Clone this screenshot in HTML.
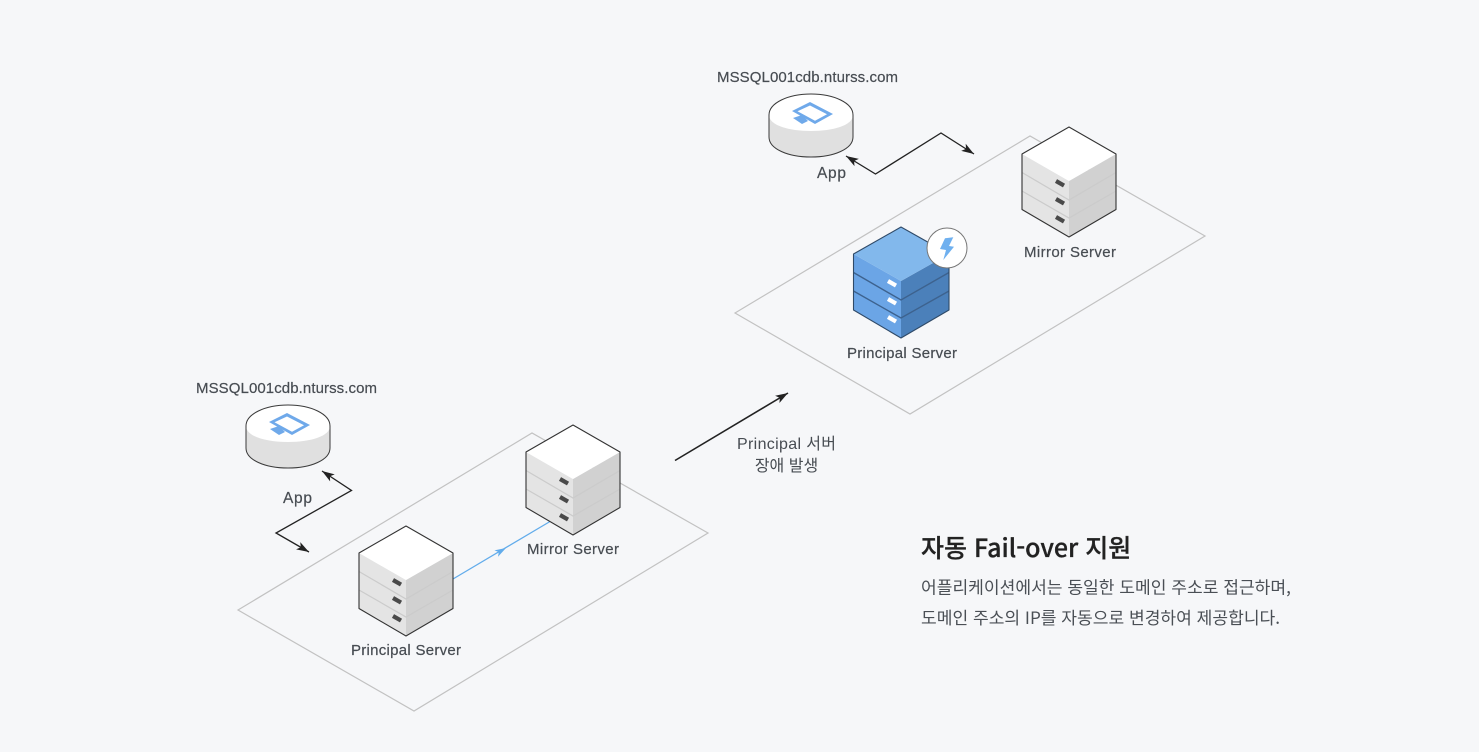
<!DOCTYPE html>
<html lang="ko">
<head>
<meta charset="utf-8">
<style>
html,body{margin:0;padding:0;background:#f6f7f9;width:1479px;height:752px;overflow:hidden}
svg{display:block}
text{font-family:"Liberation Sans","Noto Sans CJK KR",sans-serif;fill:#474c52}
.l{stroke:#474c52;stroke-width:.2}
.k{font-family:"Noto Sans CJK KR","Liberation Sans",sans-serif}
</style>
</head>
<body>
<svg width="1479" height="752" viewBox="0 0 1479 752" xmlns="http://www.w3.org/2000/svg">
<defs>
<marker id="a" viewBox="0 0 14 10" refX="13" refY="5" markerWidth="14" markerHeight="10" orient="auto-start-reverse" markerUnits="userSpaceOnUse">
  <path d="M13,5 L0.5,0.8 L3.5,5 L0.5,9.2 Z" fill="#222"/>
</marker>
<g id="srv">
  <polygon points="-47,27 0,54 0,110 -47,82.5" fill="#e4e4e4"/>
  <polygon points="47,27 0,54 0,110 47,82.5" fill="#d1d1d1"/>
  <polygon points="0,0 47,27 0,54 -47,27" fill="#fff"/>
  <path d="M-47,45.5 L0,73 L47,45.5 M-47,64 L0,91 L47,64" fill="none" stroke="#cbcbcb" stroke-width="1.2"/>
  <path d="M-13,54 L-5,58.6 M-13,72 L-5,76.6 M-13,90 L-5,94.6" stroke="#4a4a4a" stroke-width="4.2" fill="none"/>
  <polygon points="0,0 47,27 47,82.5 0,110 -47,82.5 -47,27" fill="none" stroke="#333" stroke-width="1.1" stroke-linejoin="round"/>
</g>
<g id="db">
  <path d="M-42,21 V43 C-42,55 -23,63 0,63 C23,63 42,55 42,43 V21 Z" fill="#e0e0e0"/>
  <path d="M-42,21 C-42,9 -23,0 0,0 C23,0 42,9 42,21 C42,31 23,37 0,37 C-23,37 -42,31 -42,21 Z" fill="#fff"/>
  <path d="M-42,21 C-42,9 -23,0 0,0 C23,0 42,9 42,21 V43 C42,55 23,63 0,63 C-23,63 -42,55 -42,43 Z" fill="none" stroke="#3a3a3a" stroke-width="1"/>
  <path fill-rule="evenodd" d="M-1,8 L22,20 L4,30 L-19,17 Z M-1,11.5 L16,20.3 L4,26.7 L-13.5,17.2 Z" fill="#6fa9ea"/>
  <polygon points="-18,24 -9,21 -3,27 -9,30" fill="#6fa9ea"/>
</g>
</defs>

<rect width="1479" height="752" fill="#f6f7f9"/>

<!-- planes -->
<polygon points="238,610 532,433 708,533 414,711" fill="none" stroke="#c2c2c2" stroke-width="1.2"/>
<polygon points="735,313 1030,136 1205,236 910,414" fill="none" stroke="#c2c2c2" stroke-width="1.2"/>

<!-- lower group -->
<text class="l" x="196" y="393" font-size="15" textLength="181" lengthAdjust="spacing">MSSQL001cdb.nturss.com</text>
<use href="#db" x="288" y="405"/>
<text class="l" x="283" y="503" font-size="15.5" textLength="29" lengthAdjust="spacing">App</text>
<polyline points="322,471 351.5,490.5 276,533 309,552" fill="none" stroke="#222" stroke-width="1.3" marker-start="url(#a)" marker-end="url(#a)"/>

<line x1="453" y1="579" x2="550" y2="521.5" stroke="#62aceb" stroke-width="1.3"/>
<polygon points="506,548 494.4,550.4 498.8,552 498,556.8" fill="#62aceb"/>
<use href="#srv" x="406" y="526"/>
<use href="#srv" x="573" y="425"/>
<text class="l" x="351" y="655" font-size="15" textLength="110" lengthAdjust="spacing">Principal Server</text>
<text class="l" x="527" y="554" font-size="15" textLength="92" lengthAdjust="spacing">Mirror Server</text>

<!-- main arrow -->
<line x1="675" y1="460.5" x2="788" y2="393" stroke="#222" stroke-width="1.6" marker-end="url(#a)"/>
<text x="737" y="449" font-size="16" textLength="99" lengthAdjust="spacing">Principal 서버</text>
<text class="k" x="786.5" y="471" font-size="16" text-anchor="middle">장애 발생</text>

<!-- upper group -->
<text class="l" x="717" y="82" font-size="15" textLength="181" lengthAdjust="spacing">MSSQL001cdb.nturss.com</text>
<use href="#db" x="811" y="94"/>
<text class="l" x="817" y="178" font-size="15.5" textLength="29" lengthAdjust="spacing">App</text>
<polyline points="846,156 875.5,174 941,133 974,154" fill="none" stroke="#222" stroke-width="1.3" marker-start="url(#a)" marker-end="url(#a)"/>

<use href="#srv" x="1069" y="127"/>
<text class="l" x="1024" y="257" font-size="15" textLength="92" lengthAdjust="spacing">Mirror Server</text>

<!-- blue server -->
<g transform="translate(901,227)">
  <polygon points="-47.5,27 0,54 0,111 -47.5,83" fill="#6ba5e6"/>
  <polygon points="48,27 0,54 0,111 48,83" fill="#4b80ba"/>
  <polygon points="0,0 48,27 0,54 -47.5,27" fill="#82b8ec"/>
  <path d="M-47.5,45.5 L0,73 L48,45.5 M-47.5,64 L0,91 L48,64" fill="none" stroke="#3d628e" stroke-width="1.4"/>
  <path d="M-13,54 L-5,58.6 M-13,72 L-5,76.6 M-13,90 L-5,94.6" stroke="#fff" stroke-width="4.2" fill="none"/>
  <polygon points="0,0 48,27 48,83 0,111 -47.5,83 -47.5,27" fill="none" stroke="#2f4a68" stroke-width="1.1" stroke-linejoin="round"/>
</g>
<circle cx="947" cy="248" r="20" fill="#fff" stroke="#777" stroke-width="1"/>
<polygon points="945,238.3 953.3,237.3 949,246 954,246.7 943.3,260 946,250 940,249" fill="#6fb0ef"/>
<text class="l" x="847" y="358" font-size="15" textLength="110" lengthAdjust="spacing">Principal Server</text>

<!-- description -->
<text class="k" x="921" y="557" font-size="25" font-weight="500" style="fill:#222;stroke:#222;stroke-width:.3">자동 Fail-over 지원</text>
<text class="k" x="921" y="593.5" font-size="17.1" style="fill:#4a4f55">어플리케이션에서는 동일한 도메인 주소로 접근하며,</text>
<text class="k" x="921" y="624" font-size="17.1" style="fill:#4a4f55">도메인 주소의 IP를 자동으로 변경하여 제공합니다.</text>
</svg>
</body>
</html>
